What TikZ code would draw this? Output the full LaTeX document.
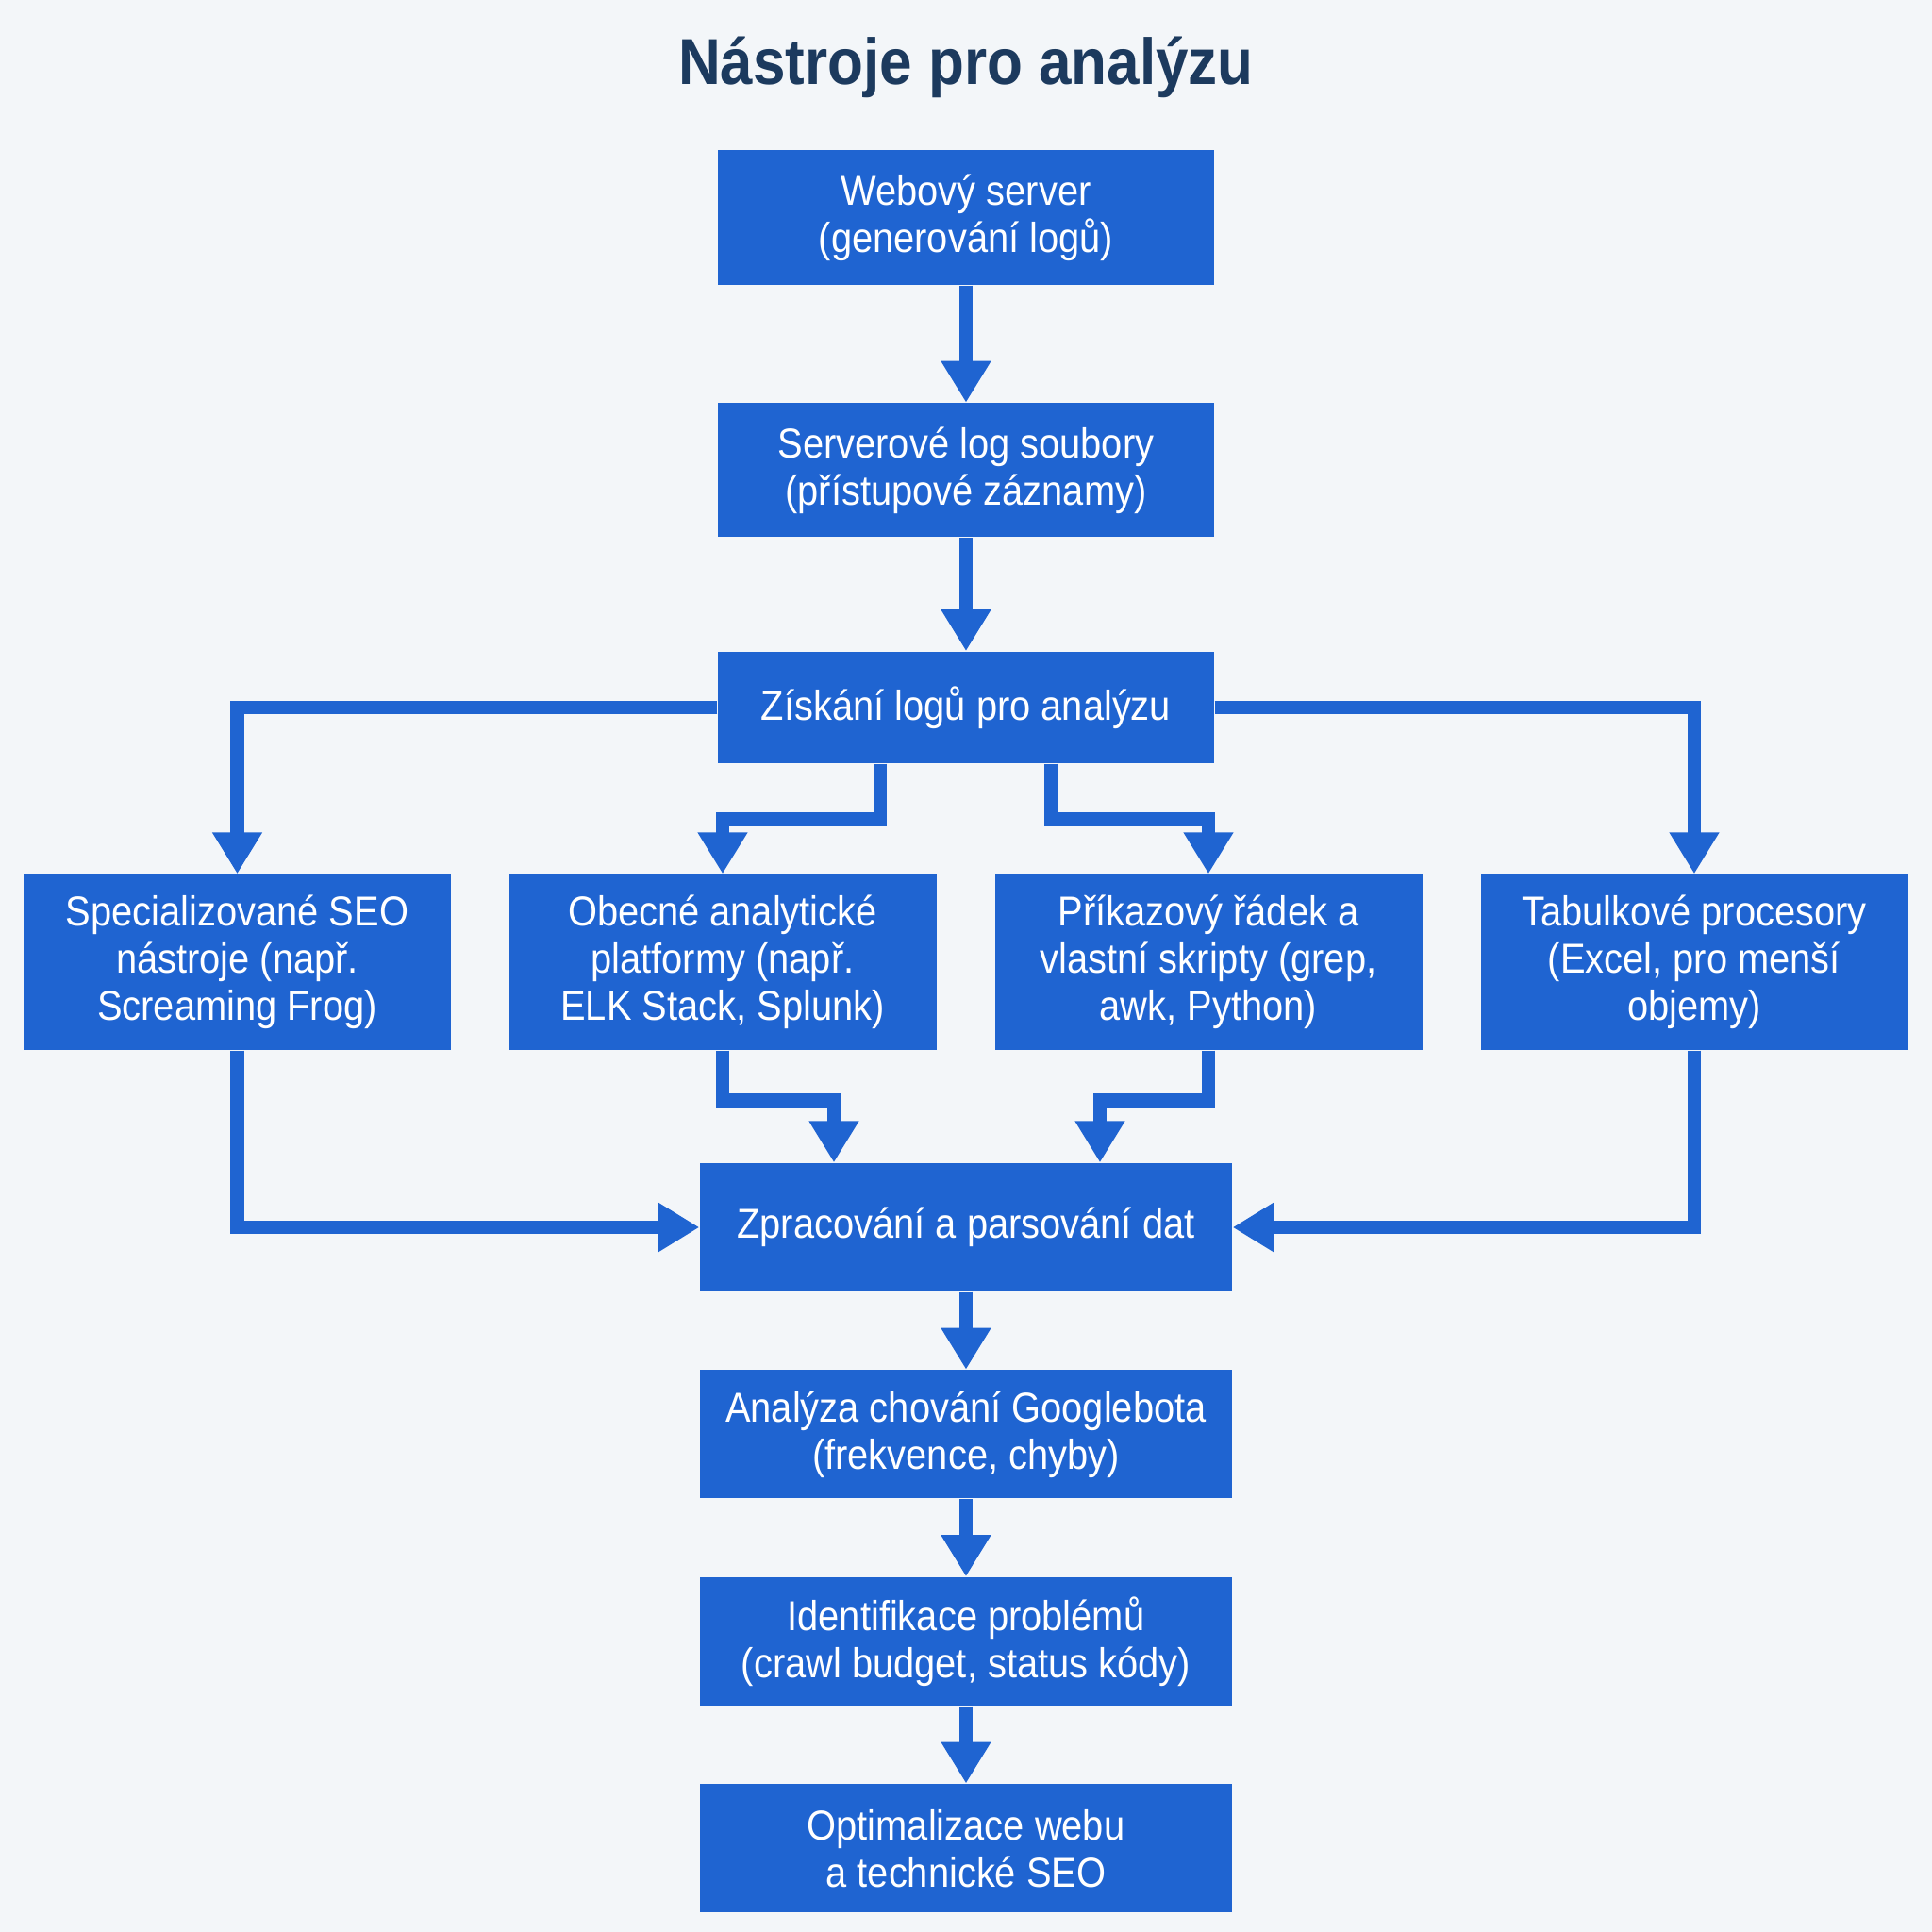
\documentclass[tikz,border=0pt]{standalone}
\usepackage{fontspec}
\setmainfont{Liberation Sans}[FakeStretch=0.9]
\usetikzlibrary{arrows.meta,positioning}
\definecolor{boxblue}{HTML}{1F64D1}
\definecolor{titlenavy}{HTML}{1C3A5E}
\definecolor{bgpaper}{HTML}{F3F6F9}

\begin{document}
\begin{tikzpicture}[box/.style = {draw=none, fill=boxblue, text=white, align=center, inner sep=0pt, font=\fontsize{12.6}{14.2}\selectfont},
                    topbox/.style = {box, minimum width=52.6mm, minimum height=14.3mm},
                    toolbox/.style = {box, minimum width=45.3mm, minimum height=18.6mm},
                    lowbox/.style = {box, minimum width=56.4mm, minimum height=13.6mm},
                    flow/.style = {draw=boxblue, line width=1.45mm, -{Triangle[width=5mm,length=4.4mm]}}]
        \fill[bgpaper] (0,0) rectangle (20.48,-20.48);
        \useasboundingbox (0,0) rectangle (20.48,-20.48);
        \node[anchor=base, text=titlenavy, font=\fontsize{19.6}{22}\selectfont\bfseries] (title) at (10.24,-0.89) {Nástroje pro analýzu};
        \node[topbox] (server) at (10.24,-2.305) {Webový server\\(generování logů)};
        \node[topbox, minimum height=14.2mm] (logs) [below=12.4mm of server] {Serverové log soubory\\(přístupové záznamy)};
        \node[topbox, minimum height=11.8mm] (gather) [below=12mm of logs] {Získání logů pro analýzu};
        \node[toolbox] (seo) at (2.515,-10.2) {Specializované SEO\\nástroje (např.\\Screaming Frog)};
        \node[toolbox] (general) at (7.66,-10.2) {Obecné analytické\\platformy (např.\\ELK Stack, Splunk)};
        \node[toolbox] (cli) at (12.81,-10.2) {Příkazový řádek a\\vlastní skripty (grep,\\awk, Python)};
        \node[toolbox] (sheet) at (17.96,-10.2) {Tabulkové procesory\\(Excel, pro menší\\objemy)};
        \node[lowbox] (parse) at (10.24,-13.01) {Zpracování a parsování dat};
        \node[lowbox] (behav) [below=8.2mm of parse] {Analýza chování Googlebota\\(frekvence, chyby)};
        \node[lowbox] (issues) [below=8.2mm of behav] {Identifikace problémů\\(crawl budget, status kódy)};
        \node[lowbox] (optim) [below=8.2mm of issues] {Optimalizace webu\\a technické SEO};
        \draw[flow] (server) -- (logs);
        \draw[flow] (logs) -- (gather);
        \draw[flow] (gather.west) -| (seo.north);
        \draw[flow] (gather.east) -| (sheet.north);
        \draw[flow] ([xshift=-9.1mm]gather.south) -- ++(0,-5.9mm) -| (general.north);
        \draw[flow] ([xshift=9mm]gather.south) -- ++(0,-5.9mm) -| (cli.north);
        \draw[flow] (general.south) -- ++(0,-5.3mm) -| ([xshift=-14mm]parse.north);
        \draw[flow] (cli.south) -- ++(0,-5.3mm) -| ([xshift=14.2mm]parse.north);
        \draw[flow] (seo.south) |- (parse.west);
        \draw[flow] (sheet.south) |- (parse.east);
        \draw[flow] (parse) -- (behav);
        \draw[flow] (behav) -- (issues);
        \draw[flow] (issues) -- (optim);
    \end{tikzpicture}
\end{document}
